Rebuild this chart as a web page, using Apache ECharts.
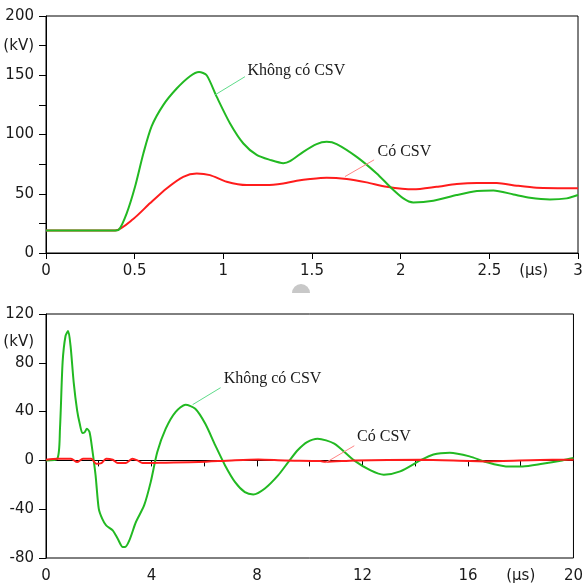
<!DOCTYPE html>
<html>
<head>
<meta charset="utf-8">
<script src="https://cdn.jsdelivr.net/npm/echarts@6/dist/echarts.min.js"></script>
<style>
html,body{margin:0;padding:0;background:#fff;}
#main{width:586px;height:587px;}
</style>
</head>
<body>
<div id="main"></div>
<script>
// ---- Top chart data (time in µs, voltage in kV) ----
var topGreenT = [0, 0.38, 0.41, 0.455, 0.502, 0.549, 0.596, 0.662, 0.737, 0.812, 0.863, 0.906, 0.963, 1.038, 1.113, 1.188, 1.263, 1.338, 1.376, 1.451, 1.526, 1.583, 1.639, 1.752, 1.865, 1.94, 2.015, 2.071, 2.184, 2.316, 2.43, 2.523, 2.636, 2.729, 2.842, 2.936, 3.0];
var topGreenV = [19, 19, 19.6, 33.5, 55.9, 84, 107, 125, 138.8, 149.2, 152.8, 150, 131.7, 109.3, 92.4, 82.8, 78.6, 75.8, 77.5, 85.4, 91.9, 93.8, 91.9, 81.1, 67.1, 55.9, 46.1, 42.7, 44.1, 48.9, 52.3, 52.8, 49.4, 46.6, 45.2, 46.1, 48.9];
var topRedT = [0, 0.39, 0.492, 0.586, 0.68, 0.774, 0.85, 0.925, 1.019, 1.132, 1.244, 1.338, 1.414, 1.489, 1.583, 1.696, 1.808, 1.921, 2.071, 2.203, 2.316, 2.43, 2.542, 2.655, 2.767, 3.0];
var topRedV = [19, 19, 28.7, 41.9, 54.5, 64.3, 67.1, 65.7, 60.1, 57.3, 57.3, 58.7, 60.9, 62.4, 63.5, 62.4, 59.6, 55.9, 53.7, 55.9, 58.2, 59.1, 59.1, 56.8, 55.1, 54.7];

// ---- Bottom chart data ----
var botGreenT = [0, 0.43, 0.53, 0.63, 0.74, 0.84, 0.93, 1.05, 1.18, 1.28, 1.38, 1.47, 1.55, 1.65, 1.75, 1.88, 2.0, 2.13, 2.28, 2.53, 2.72, 2.91, 3.0, 3.16, 3.41, 3.72, 3.97, 4.22, 4.54, 4.91, 5.29, 5.66, 6.04, 6.42, 6.79, 7.17, 7.54, 7.86, 8.3, 8.8, 9.2, 9.55, 9.9, 10.3, 10.93, 11.68, 12.31, 12.81, 13.43, 14.19, 14.69, 15.31, 16.06, 16.69, 17.44, 18.07, 18.82, 19.57, 20];
var botGreenV = [0, 1.4, 26, 80.6, 102, 106, 94, 64, 41, 30, 22.4, 23.2, 26, 23.2, 9.6, -12.3, -39.6, -47.8, -53.3, -57.4, -64.2, -71, -71, -65.6, -50.5, -36.9, -17.8, 6.8, 26, 39.6, 45.6, 42.3, 30, 12.3, -4.1, -17.8, -26, -27.9, -23, -12.3, -1, 8.5, 15, 17.8, 13.7, 0, -8.2, -11.7, -9, 0, 4.9, 6.3, 3.3, -1.4, -4.9, -4.9, -2.7, 0, 1.9];
var botRedT = [0, 0.43, 0.95, 1.18, 1.4, 1.72, 1.9, 2.1, 2.28, 2.53, 2.72, 3.03, 3.28, 3.47, 3.66, 4.54, 5.79, 7.04, 8.05, 9.05, 10.4, 10.6, 11.7, 14.2, 16.7, 19.2, 20];
var botRedV = [0.5, 1.4, 1.4, -1.4, 1.4, 1.4, -2.7, -2.2, 1.4, 0.5, -2.2, -2.2, 1.4, 0, -2.2, -1.9, -1.4, 0, 0.8, 0, -0.5, -1.2, 0, 0.5, -0.8, 0.5, 0.5];

// ---- Tick labels / annotation text ----
var yUnit = '(kV)';
var xUnit = '(µs)';
var labelNo = 'Không có CSV';
var labelYes = 'Có CSV';

// annotation anchor points (data coordinates): [leaderStart, leaderEnd, textAnchor]
var topGreenNote = [[0.953, 133.4], [1.122, 148.8], [1.125, 153.6]];
var topRedNote = [[1.686, 64.5], [1.85, 78.6], [1.858, 85.6]];
var botGreenNote = [[5.56, 45.7], [6.62, 59.6], [6.66, 67]];
var botRedNote = [[10.6, -1.9], [11.69, 12], [11.72, 19.4]];

function zip(a, b) { return a.map(function (x, i) { return [x, b[i]]; }); }

var tickFont = { fontFamily: 'DejaVu Sans', fontSize: 15, color: '#1a1a1a' };
var GREEN = '#22b922';
var RED = '#ff1c1c';

function note(pts, text, color) {
  return {
    markLine: {
      silent: true, symbol: 'none', animation: false,
      lineStyle: { color: color, width: 1, type: 'solid' },
      label: { show: false },
      data: [[{ coord: pts[0] }, { coord: pts[1] }]]
    },
    markPoint: {
      silent: true, symbol: 'circle', symbolSize: 0, animation: false,
      label: {
        show: true, position: 'right', distance: 2,
        formatter: text,
        fontFamily: 'Liberation Serif', fontSize: 16, color: '#1a1a1a'
      },
      data: [{ coord: pts[2] }]
    }
  };
}

function lineSeries(name, xi, yi, data, color, n) {
  var s = {
    name: name, type: 'line', xAxisIndex: xi, yAxisIndex: yi,
    data: data, showSymbol: false, smooth: 0.25,
    lineStyle: { color: color, width: 2 }, itemStyle: { color: color },
    z: 3
  };
  Object.assign(s, n);
  return s;
}

var chart = echarts.init(document.getElementById('main'), null, { renderer: 'canvas' });

var axisLineStyle = { show: true, lineStyle: { color: '#000', width: 1 } };

var option = {
  animation: false,
  backgroundColor: '#fff',
  graphic: [
    { type: 'sector', shape: { cx: 301, cy: 293, r: 9, r0: 0, startAngle: Math.PI, endAngle: 2 * Math.PI },
      style: { fill: '#c8c8c8' }, silent: true }
  ],
  grid: [
    { left: 46, top: 16, width: 532, height: 237, show: true, borderColor: '#000', borderWidth: 1, backgroundColor: 'transparent' },
    { left: 46, top: 314, width: 532, height: 244, show: true, borderColor: '#000', borderWidth: 1, backgroundColor: 'transparent' }
  ],
  xAxis: [
    { type: 'value', gridIndex: 0, min: 0, max: 3, interval: 0.5, position: 'bottom',
      axisLine: axisLineStyle, axisTick: { show: true, length: 6, inside: false, lineStyle: { color: '#000' } },
      splitLine: { show: false },
      axisLabel: Object.assign({ margin: 11, formatter: function (v) { return String(v); } }, tickFont) },
    { type: 'value', gridIndex: 0, min: 0, max: 3, interval: 0.25, position: 'bottom', offset: 0,
      axisLine: { show: false }, axisTick: { show: false }, splitLine: { show: false },
      axisLabel: Object.assign({ margin: 11, showMinLabel: false, showMaxLabel: false,
        formatter: function (v) { return Math.abs(v - 2.75) < 1e-6 ? xUnit : ''; } }, tickFont) },
    { type: 'value', gridIndex: 1, min: 0, max: 20, interval: 2, position: 'bottom',
      axisLine: axisLineStyle, axisTick: { show: true, length: 6, inside: false, lineStyle: { color: '#000' } },
      splitLine: { show: false },
      axisLabel: Object.assign({ margin: 11, formatter: function (v) {
        if (v % 4 === 0) return String(v);
        if (v === 18) return xUnit;
        return '';
      } }, tickFont) }
  ],
  yAxis: [
    { type: 'value', gridIndex: 0, min: 0, max: 200, interval: 25, position: 'left',
      axisLine: axisLineStyle, axisTick: { show: true, length: 7, inside: false, lineStyle: { color: '#000' } },
      splitLine: { show: false },
      axisLabel: Object.assign({ margin: 12, formatter: function (v) {
        if (v % 50 === 0) return String(v);
        if (v === 175) return yUnit;
        return '';
      } }, tickFont) },
    { type: 'value', gridIndex: 1, min: -80, max: 120, interval: 40, position: 'left',
      axisLine: axisLineStyle, axisTick: { show: true, length: 7, inside: false, lineStyle: { color: '#000' } },
      splitLine: { show: false },
      axisLabel: Object.assign({ margin: 12, formatter: function (v) { return String(v); } }, tickFont) },
    { type: 'value', gridIndex: 1, min: -80, max: 120, interval: 20, position: 'left', offset: 0,
      axisLine: { show: false }, axisTick: { show: false }, splitLine: { show: false },
      axisLabel: Object.assign({ margin: 12, verticalAlign: 'top', lineHeight: 8,
        formatter: function (v) { return v === 100 ? yUnit : ''; } }, tickFont) }
  ],
  series: [
    lineSeries('Có CSV top', 0, 0, zip(topRedT, topRedV), RED, note(topRedNote, labelYes, '#ff8585')),
    lineSeries('Không có CSV top', 0, 0, zip(topGreenT, topGreenV), GREEN, note(topGreenNote, labelNo, '#5fdc8a')),
    lineSeries('Không có CSV bottom', 2, 1, zip(botGreenT, botGreenV), GREEN, note(botGreenNote, labelNo, '#5fdc8a')),
    lineSeries('Có CSV bottom', 2, 1, zip(botRedT, botRedV), RED, note(botRedNote, labelYes, '#ff8585'))
  ]
};
chart.setOption(option);
</script>
</body>
</html>
